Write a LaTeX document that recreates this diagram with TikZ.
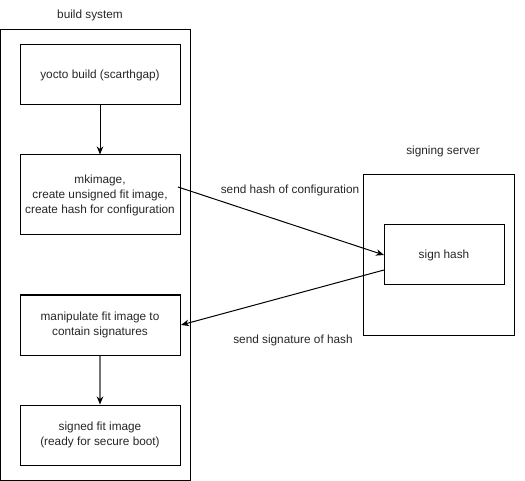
\documentclass[tikz,border=0pt]{standalone}
\usepackage{fontspec}
\setmainfont{Liberation Sans}
\usetikzlibrary{arrows.meta}
\begin{document}
\begin{tikzpicture}[x=1pt,y=-1pt,
  every node/.style={font=\fontsize{11.8}{15}\selectfont, text=black!85},
  box/.style={draw, line width=1pt, minimum width=160pt, align=center, inner sep=0pt},
  frame/.style={draw, line width=1pt},
  lbl/.style={inner sep=0pt},
  arr/.style={line width=1pt, -{Stealth[length=8pt,width=6.5pt,inset=2.5pt]}}]
\useasboundingbox (0,0) rectangle (525,481);
% containers
\draw[frame] (0.5,30) rectangle (190,480);
\node[lbl] (bs) at (90,15) {build system};
\draw[frame] (363,175) rectangle (514,335);
\node[lbl] (ss) at (443,151) {signing server};
% boxes
\node[box, minimum height=60pt] (yocto) at (100,75) {yocto build (scarthgap)};
\node[box, minimum height=80pt] (mk) at (100,195) {mkimage,\\create unsigned fit image,\\create hash for configuration};
\node[box, minimum height=60pt] (man) at (100,325) {manipulate fit image to\\contain signatures};
\node[box, minimum height=60pt] (signed) at (100,435) {signed fit image\\(ready for secure boot)};
\node[box, minimum width=120pt, minimum height=60pt] (sh) at (444,255) {sign hash};
% connectors
\draw[arr] (yocto) -- (mk);
\draw[line width=1.4pt, draw=black!55, -{Stealth[length=8pt,width=6.5pt,inset=2.5pt,color=black]}] (man) -- (signed);
\coordinate (a1) at (178,187);
\coordinate (a2) at (384,255);
\coordinate (b1) at (384,270);
\coordinate (b2) at (181,325);
\draw[arr] (a1) -- (a2);
\draw[arr] (b1) -- (b2);
\node[lbl] (l1) at (290,190) {send hash of configuration};
\node[lbl] (l2) at (293,340) {send signature of hash};
\end{tikzpicture}
\end{document}
